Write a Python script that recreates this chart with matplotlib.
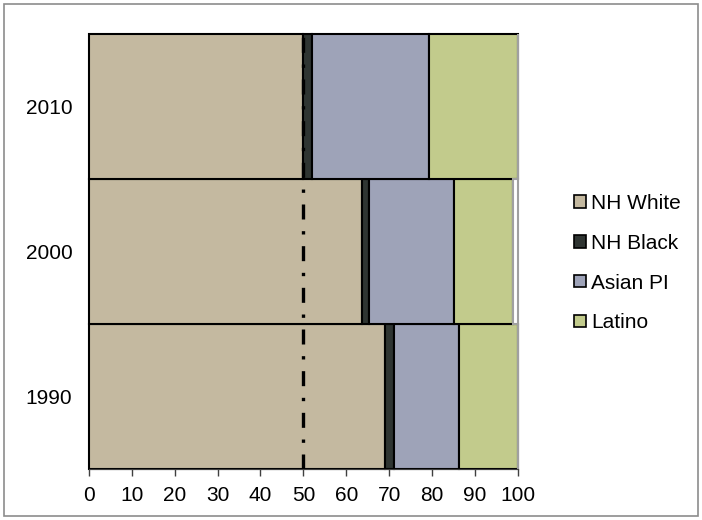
import matplotlib
matplotlib.use("Agg")
import matplotlib.pyplot as plt
from matplotlib.patches import Patch, Rectangle
import numpy as np

plt.rcParams['font.family'] = ['Liberation Sans', 'DejaVu Sans']

# Datos (porcentaje de poblacion por grupo)
anios = ['1990', '2000', '2010']
nh_white = [69.0, 63.7, 50.0]
nh_black = [2.1, 1.6, 2.1]
asian_pi = [15.2, 19.9, 27.3]
latino = [13.7, 13.8, 20.6]
otros = [0.0, 1.0, 0.0]

grupos = ['NH White', 'NH Black', 'Asian PI', 'Latino']
colores = ['#C4B9A0', '#2F3532', '#9EA3B8', '#C2CB8C']

fig = plt.figure(figsize=(7.02, 5.2), dpi=100)
ax = fig.add_axes([0.1268, 0.098, 0.6107, 0.8365])

y = np.arange(len(anios))
izq = np.zeros(len(anios))
for vals, col in zip([nh_white, nh_black, asian_pi, latino], colores):
    ax.barh(y, vals, height=1.0, left=izq, color=col, edgecolor='black',
            linewidth=1.5, clip_on=False)
    izq += np.array(vals)
# pequeño resto en 2000
ax.barh(y, otros, height=1.0, left=izq, color='white', edgecolor='#A0A0A0',
        linewidth=1.5, clip_on=False)

# linea de referencia al 50%
ax.plot([50, 50], [-0.5, 2.5], color='black', lw=2.4, dashes=(4.5, 3.5, 1, 3.5), zorder=5)

ax.set_xlim(0, 100)
ax.set_ylim(-0.5, 2.5)
ax.set_xticks(range(0, 101, 10))
ax.set_yticks(y)
ax.set_yticklabels(anios)
ax.tick_params(axis='y', length=0, pad=12, labelsize=15)
ax.tick_params(axis='x', direction='out', length=5, width=1, color='#404040', pad=7, labelsize=15)
for s in ['top', 'right', 'left']:
    ax.spines[s].set_visible(False)
ax.spines['bottom'].set_color('#404040')

handles = [Patch(facecolor=c, edgecolor='black', linewidth=1.2) for c in colores]
fig.legend(handles, grupos, loc='center left', bbox_to_anchor=(0.818, 0.494),
           frameon=False, fontsize=15, handlelength=0.55, handleheight=0.55,
           handletextpad=0.25, labelspacing=1.0, borderpad=0, borderaxespad=0)

# marco exterior
fig.patches.append(Rectangle((0.006, 0.008), 0.988, 0.984, transform=fig.transFigure,
                             fill=False, edgecolor='#8C8C8C', linewidth=1.2))

fig.savefig('out.png', dpi=100)
